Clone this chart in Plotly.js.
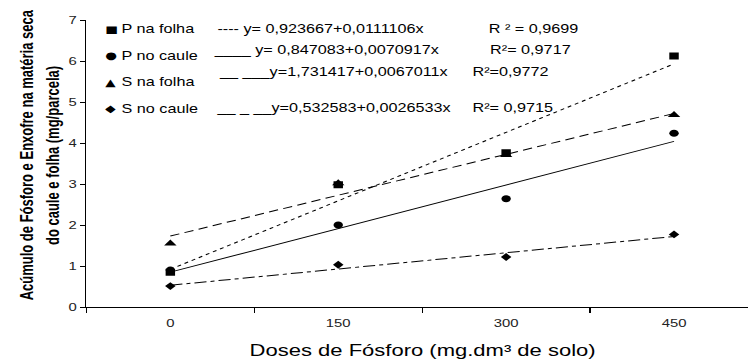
<!DOCTYPE html>
<html>
<head>
<meta charset="utf-8">
<script src="https://cdn.plot.ly/plotly-3.0.1.min.js"></script>
<style>
  html, body { margin: 0; padding: 0; background: #fff; overflow: hidden; }
  #wrap { width: 748px; height: 359px; overflow: hidden; }
  #plot { width: 554px; height: 359px; transform: scaleX(1.35); transform-origin: 0 0; }
</style>
</head>
<body>
<div id="wrap"><div id="plot"></div></div>
<script>
// ---- data ----
const doses = [0, 150, 300, 450];
const doseLabels = ["0", "150", "300", "450"];
const pFolha  = [0.85, 2.98, 3.76, 6.12];
const pCaule  = [0.90, 2.00, 2.64, 4.24];
const sFolha  = [1.55, 3.02, 3.71, 4.68];
const sCaule  = [0.51, 1.03, 1.22, 1.77];

// fitted lines (endpoints read at dose 0 and 450)
const trendX      = [0, 450];
const trendPFolha = [0.92, 5.93];
const trendPCaule = [0.85, 4.04];
const trendSFolha = [1.73, 4.72];
const trendSCaule = [0.53, 1.72];

const seriesNames = ["P na folha", "P no caule", "S na folha", "S no caule"];
const seriesSymbols = ["■", "●", "▲", "◆"];
const equations = [
  "---- y= 0,923667+0,0111106x",
  "____ y= 0,847083+0,0070917x",
  "__ ___y=1,731417+0,0067011x",
  "__ _ __y=0,532583+0,0026533x"
];
const r2Texts = [
  "R ² = 0,9699",
  "R²= 0,9717",
  "R²=0,9772",
  "R²= 0,9715"
];
const yTitleLines = ["Acúmulo de Fósforo e Enxofre na matéria seca", "do caule e folha (mg/parcela)"];
const xTitle = "Doses de Fósforo (mg.dm³ de solo)";

const FONT = "Liberation Sans, Arial, Helvetica, sans-serif";

function trend(y, dash) {
  return { x: trendX, y: y, type: "scatter", mode: "lines", xaxis: "x2", yaxis: "y",
           line: { color: "#000", width: 1, dash: dash }, hoverinfo: "skip", showlegend: false };
}
function pts(y, sym, size) {
  return { x: doses, y: y, type: "scatter", mode: "markers", xaxis: "x", yaxis: "y",
           marker: { color: "#000", symbol: sym, size: size }, showlegend: false };
}

const data = [
  trend(trendPFolha, "dot"),
  trend(trendPCaule, "solid"),
  trend(trendSFolha, "7px,4px"),
  trend(trendSCaule, "dashdot"),
  pts(sFolha, "triangle-up", 8),
  pts(pFolha, "square", 7),
  pts(pCaule, "circle", 7),
  pts(sCaule, "diamond", 6)
];

// legend block positions (paper coordinates)
const symX = 0.0375, labX = 0.0480;
const labY = [0.9686, 0.8756, 0.7829, 0.6899];
const eqX  = [0.1940, 0.1870, 0.1960, 0.1920];
const eqY  = [0.9686, 0.8944, 0.8199, 0.6934];
const r2X  = [0.6040, 0.6066, 0.5800, 0.5800];

const annotations = [];
for (let i = 0; i < 4; i++) {
  annotations.push({ xref: "paper", yref: "paper", x: symX, y: labY[i], xanchor: "center", yanchor: "middle",
    text: seriesSymbols[i], showarrow: false, font: { family: "DejaVu Sans", size: 10, color: "#000" } });
  annotations.push({ xref: "paper", yref: "paper", x: labX, y: labY[i], xanchor: "left", yanchor: "middle",
    text: seriesNames[i], showarrow: false, font: { family: FONT, size: 12, color: "#000" } });
  annotations.push({ xref: "paper", yref: "paper", x: eqX[i], y: eqY[i], xanchor: "left", yanchor: "middle",
    text: equations[i], showarrow: false, font: { family: FONT, size: 12, color: "#000" } });
  annotations.push({ xref: "paper", yref: "paper", x: r2X[i], y: eqY[i], xanchor: "left", yanchor: "middle",
    text: r2Texts[i], showarrow: false, font: { family: FONT, size: 12, color: "#000" } });
}
const yTitleX = [-0.0888, -0.0510];
const yTitleY = [0.53, 0.526];
for (let i = 0; i < 2; i++) {
  annotations.push({ xref: "paper", yref: "paper", x: yTitleX[i], y: yTitleY[i], xanchor: "center", yanchor: "middle",
    textangle: -90, text: "<b>" + yTitleLines[i] + "</b>", showarrow: false,
    font: { family: FONT, size: 13, color: "#000" } });
}
annotations.push({ xref: "x", yref: "paper", x: 225, y: -0.15, xanchor: "center", yanchor: "middle",
  text: xTitle, showarrow: false, font: { family: FONT, size: 16.3, color: "#000" } });

const layout = {
  width: 554, height: 359,
  margin: { l: 64, r: 0, t: 20, b: 52, pad: 0 },
  paper_bgcolor: "#fff", plot_bgcolor: "#fff",
  showlegend: false,
  font: { family: FONT, color: "#000" },
  xaxis: {
    range: [-75, 516], tickmode: "array", tickvals: doses, ticktext: doseLabels,
    ticks: "outside", ticklen: 6, tickcolor: "rgba(0,0,0,0)",
    showline: true, linecolor: "#000", linewidth: 1, showgrid: false, zeroline: false,
    tickfont: { family: FONT, size: 11, color: "#222" }, fixedrange: true
  },
  xaxis2: {
    overlaying: "x", anchor: "y", side: "bottom", range: [-75, 516],
    tickmode: "array", tickvals: [-75, 75, 225, 375], ticks: "outside", ticklen: 5,
    tickcolor: "#000", tickwidth: 1, showticklabels: false, showline: false,
    showgrid: false, zeroline: false, fixedrange: true
  },
  yaxis: {
    range: [0, 7], tickmode: "array", tickvals: [0,1,2,3,4,5,6,7],
    ticks: "outside", ticklen: 4, tickcolor: "#000",
    showline: true, linecolor: "#000", linewidth: 1, showgrid: false, zeroline: false,
    tickfont: { family: FONT, size: 11, color: "#222" }, fixedrange: true
  },
  annotations: annotations
};

Plotly.newPlot("plot", data, layout, { staticPlot: true, displayModeBar: false });
</script>
</body>
</html>
